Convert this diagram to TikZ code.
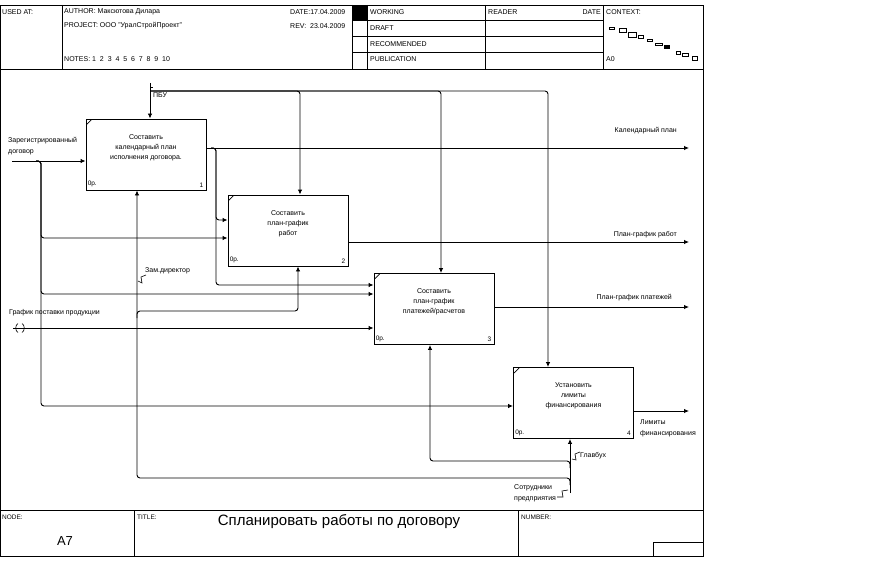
\documentclass[tikz,border=0pt]{standalone}
\usepackage{fontspec}
\setmainfont{Liberation Sans}
\usetikzlibrary{arrows.meta}

\tikzset{
  wire/.style={line width=0.9pt},
  arr/.style={line width=0.9pt, rounded corners=3pt, -{Latex[length=5pt,width=4.5pt]}},
  func/.style={draw, line width=0.9pt, minimum width=120pt, minimum height=71pt, inner sep=0pt},
  boxtxt/.style={font=\fontsize{7}{10}\selectfont, align=center, inner sep=0pt},
  small/.style={font=\fontsize{6.5}{7}\selectfont, inner sep=0pt},
  hdr/.style={font=\fontsize{7}{8}\selectfont, inner sep=0pt, anchor=west},
  lbl/.style={font=\fontsize{7}{11}\selectfont, inner sep=0pt, anchor=west, align=left},
  zig/.style={line width=0.6pt},
}

\begin{document}
\begin{tikzpicture}[x=1pt,y=-1pt]
    \useasboundingbox (0,0) rectangle (889,567);

    % frame, header and footer
    \draw[wire] (0,5) rectangle (703,556);
    \draw[wire] (0,69) -- (703,69);
    \draw[wire] (0,510) -- (703,510);
    \foreach \x in {62,352,367,485,603}
        \draw[wire] (\x,5) -- (\x,69);
    \foreach \y in {20,36,52}
        \draw[wire] (352,\y) -- (603,\y);
    \fill (352,5) rectangle (367,20);
    \draw[wire] (134,510) -- (134,556);
    \draw[wire] (518,510) -- (518,556);
    \draw[wire] (653,542) rectangle (703,556);

    \node[hdr] (used) at (2,12) {USED AT:};
    \node[hdr] (author) at (64,12) {AUTHOR: Максютова Дилара};
    \node[hdr] (project) at (64,26) {PROJECT: ООО "УралСтройПроект"};
    \node[hdr] (notes) at (64,59) {NOTES: 1~~2~~3~~4~~5~~6~~7~~8~~9~~10};
    \node[hdr] (date) at (290,12) {DATE:17.04.2009};
    \node[hdr] (rev) at (290,26) {REV:~~23.04.2009};
    \node[hdr] (working) at (370,12) {WORKING};
    \node[hdr] (draft) at (370,28) {DRAFT};
    \node[hdr] (recom) at (370,44) {RECOMMENDED};
    \node[hdr] (public) at (370,59) {PUBLICATION};
    \node[hdr] (reader) at (488,12) {READER};
    \node[hdr, anchor=east] (rdate) at (601,12) {DATE};
    \node[hdr] (context) at (606,12) {CONTEXT:};
    \node[hdr] (a0) at (606,59) {A0};

    % context map
    \foreach \xa/\ya/\xb/\yb in {609/27/614/29, 619/28/626/32, 628/32/636/37,
        638/35/643/38, 647/39/652/41, 655/43/662/45, 676/51/680/54,
        682/53/688/56, 692/56/697/60}
        \draw[zig] (\xa,\ya) rectangle (\xb,\yb);
    \fill (664,45) rectangle (670,49);

    \node[small, anchor=west] (lnode) at (2,517) {NODE:};
    \node[small, anchor=west] (ltitle) at (137,517) {TITLE:};
    \node[small, anchor=west] (lnumber) at (521,517) {NUMBER:};
    \node[font=\fontsize{13}{15}\selectfont] (nodeno) at (65,541) {A7};
    \node[font=\fontsize{15}{17}\selectfont] (title) at (339,522) {Спланировать работы по договору};

    % function boxes
    \node[func] (b1) at (146,154.5) {};
    \node[func] (b2) at (288,230.5) {};
    \node[func] (b3) at (434,309) {};
    \node[func] (b4) at (573.5,403) {};

    \node[boxtxt] (t1) at ([yshift=7pt]b1.center) {Составить\\календарный план\\исполнения договора.};
    \node[boxtxt] (t2) at ([yshift=7pt]b2.center) {Составить\\план-график\\работ};
    \node[boxtxt] (t3) at ([yshift=7pt]b3.center) {Составить\\план-график\\платежей/расчетов};
    \node[boxtxt] (t4) at ([yshift=7pt]b4.center) {Установить\\лимиты\\финансирования};

    \foreach \b/\n in {b1/1, b2/2, b3/3, b4/4} {
        \node[small, anchor=south west] (\b-cost) at ([xshift=2pt,yshift=3pt]\b.south west) {0р.};
        \node[small, anchor=south east] (\b-num) at ([xshift=-3pt,yshift=3pt]\b.south east) {\n};
        \draw[zig] ([xshift=1pt,yshift=-6pt]\b.north west) -- ([xshift=6pt,yshift=-1pt]\b.north west);
    }

    % inputs
    \coordinate (in1) at (12,161);
    \coordinate (in1s) at (41,161);
    \draw[arr] (in1) -- (in1 -| b1.west);
    \draw[arr] ([xshift=-5pt]in1s) -- (in1s) |- (b2.west |- 0,238);
    \draw[arr] ([xshift=-5pt]in1s) -- (in1s) |- (b3.west |- 0,294);
    \draw[arr] ([xshift=-5pt]in1s) -- (in1s) |- (b4.west |- 0,406);
    \node[lbl] (l-in1) at (8,146.5) {Зарегистрированный\\договор};

    \coordinate (in2) at (13,328);
    \draw[arr] (in2) -- (in2 -| b3.west);
    \draw[zig] (18,323.5) .. controls (15,325) and (15,331) .. (18,332.5);
    \draw[zig] (22,323.5) .. controls (25,325) and (25,331) .. (22,332.5);
    \node[lbl] (l-in2) at (9,313) {График поставки продукции};

    % outputs
    \coordinate (out1) at (689,148);
    \coordinate (out1s) at (216,148);
    \draw[arr] (b1.east |- out1) -- (out1);
    \draw[arr] ([xshift=-5pt]out1s) -- (out1s) |- (b2.west |- 0,220);
    \draw[arr] ([xshift=-5pt]out1s) -- (out1s) |- (b3.west |- 0,285);
    \node[lbl, anchor=east] (l-out1) at (677,131) {Календарный план};

    \coordinate (out2) at (689,242);
    \draw[arr] (b2.east |- out2) -- (out2);
    \node[lbl, anchor=east] (l-out2) at (677,235) {План-график работ};

    \coordinate (out3) at (689,307);
    \draw[arr] (b3.east |- out3) -- (out3);
    \node[lbl, anchor=east] (l-out3) at (672,298) {План-график платежей};

    \coordinate (out4) at (689,411);
    \draw[arr] (b4.east |- out4) -- (out4);
    \node[lbl] (l-out4) at (640,428) {Лимиты\\финансирования};

    % controls
    \coordinate (pbu) at (150,83);
    \coordinate (pbus) at (150,91);
    \draw[arr] (pbu) -- (pbu |- b1.north);
    \draw[zig] (150,87) -- (153,87);
    \draw[arr] (pbus) -| (b2.north -| 300,0);
    \draw[arr] (pbus) -| (b3.north -| 441,0);
    \draw[arr] (pbus) -| (b4.north -| 548,0);
    \node[lbl] (l-pbu) at (153,95) {ПБУ};

    % mechanisms
    \coordinate (sotr) at (570,493);
    \coordinate (zam) at (137,311);
    \draw[arr] (sotr) -- (sotr |- b4.south);
    \draw[arr] (sotr |- 0,468) -- (sotr |- 0,461) -| (b3.south -| 430,0);
    \draw[arr] (sotr |- 0,485) -- (sotr |- 0,478) -| (b1.south -| zam);
    \draw[arr] (137,318) -- (zam) -| (b2.south -| 298,0);
    \node[lbl] (l-zam) at (145,271) {Зам.директор};
    \node[lbl] (l-glav) at (580,456) {Главбух};
    \node[lbl] (l-sotr) at (514,493) {Сотрудники\\предприятия};
    \draw[zig] (138,281) -- (142,283) -- (141,277) -- (146,275);
    \draw[zig] (572,459) -- (576,460) -- (575,454) -- (580,452);
    \draw[zig] (557,497) -- (563,497) -- (562,491) -- (568,490);
\end{tikzpicture}
\end{document}
